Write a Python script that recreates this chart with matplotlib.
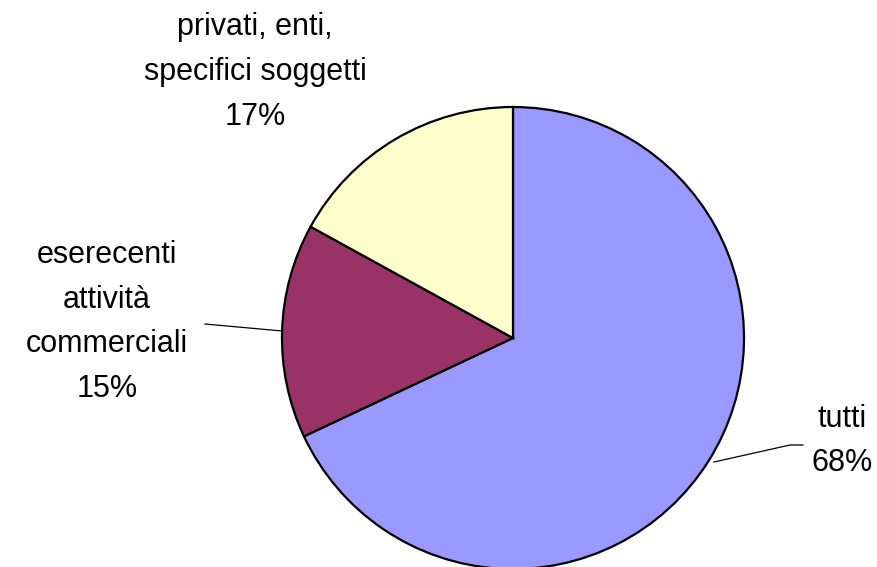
import matplotlib
matplotlib.use("Agg")
import matplotlib.pyplot as plt

categories = ["tutti", "eserecenti\nattività\ncommerciali", "privati, enti,\nspecifici soggetti"]
values = [68, 15, 17]
colors = ["#9999FF", "#993366", "#FFFFCC"]

plt.rcParams['font.family'] = ['Liberation Sans', 'DejaVu Sans']

W, H = 877, 567
fig = plt.figure(figsize=(W / 100, H / 100), dpi=100)
ax = fig.add_axes([0, 0, 1, 1])

cx, cy, r = 513, H - 338, 231
ax.pie(values, colors=colors, startangle=90, counterclock=False,
       center=(cx, cy), radius=r, frame=True,
       wedgeprops=dict(edgecolor='black', linewidth=1.6))
ax.set_xlim(0, W)
ax.set_ylim(0, H)
ax.set_aspect('equal')
ax.axis('off')

labels = [f"{c}\n{v}%" for c, v in zip(categories, values)]
label_pos = [(842, H - 441), (107, H - 322), (255, H - 72)]
for lab, (x, y) in zip(labels, label_pos):
    ax.text(x, y, lab, ha='center', va='center', fontsize=22,
            linespacing=1.65, color='black')

# leader lines
ax.plot([714, 790, 803], [H - 462, H - 445, H - 445], color='black', lw=0.9)
ax.plot([282, 205], [H - 331, H - 324], color='black', lw=0.9)

fig.savefig("out.png", dpi=100)
